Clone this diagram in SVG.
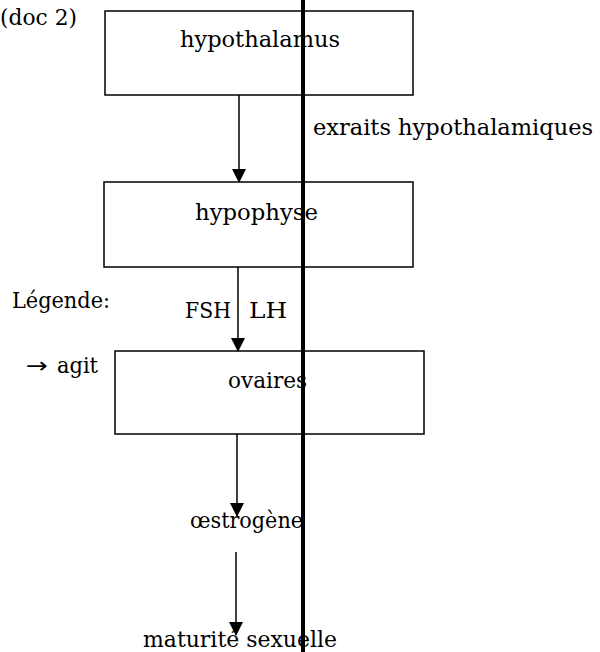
<svg xmlns="http://www.w3.org/2000/svg" width="600" height="652" viewBox="0 0 600 652">
<style>
text{font-family:'DejaVu Serif',serif;font-size:22px;fill:#000}
.arrowglyph{font-family:'DejaVu Sans',sans-serif;font-size:22px}
.box{fill:#fff;stroke:#000;stroke-width:1.5}
.conn{stroke:#000;stroke-width:1.5;fill:none}
</style>
<defs>
<marker id="ah" markerWidth="14" markerHeight="14" refX="13" refY="7" orient="auto" markerUnits="userSpaceOnUse">
<path d="M0,0 L14,7 L0,14 Z" fill="#000"/>
</marker>
</defs>
<rect width="600" height="652" fill="#fff"/>
<text x="0" y="25" textLength="77" lengthAdjust="spacingAndGlyphs">(doc 2)</text>
<g id="hypothalamus">
<rect class="box" x="105" y="11" width="308" height="84"/>
<text x="180" y="47" textLength="160" lengthAdjust="spacingAndGlyphs">hypothalamus</text>
</g>
<g id="hypophyse">
<rect class="box" x="104" y="182" width="309" height="85"/>
<text x="195" y="220" textLength="123" lengthAdjust="spacingAndGlyphs">hypophyse</text>
</g>
<g id="ovaires">
<rect class="box" x="115" y="351" width="309" height="83"/>
<text x="228" y="388" textLength="79" lengthAdjust="spacingAndGlyphs">ovaires</text>
</g>
<g id="oestrogene">
<text x="190" y="528" textLength="113" lengthAdjust="spacingAndGlyphs">œstrogène</text>
</g>
<g id="maturite">
<text x="143" y="647" textLength="194" lengthAdjust="spacingAndGlyphs">maturité sexuelle</text>
</g>
<g id="connectors">
<line class="conn" x1="239" y1="95" x2="239" y2="182" marker-end="url(#ah)"/>
<line class="conn" x1="238" y1="267" x2="238" y2="351" marker-end="url(#ah)"/>
<line class="conn" x1="237" y1="434" x2="237" y2="516" marker-end="url(#ah)"/>
<line class="conn" x1="236" y1="552" x2="236" y2="635" marker-end="url(#ah)"/>
</g>
<text x="185" y="318" textLength="46" lengthAdjust="spacingAndGlyphs">FSH</text>
<text x="249" y="318" textLength="38" lengthAdjust="spacingAndGlyphs">LH</text>
<text x="12" y="308" textLength="98" lengthAdjust="spacingAndGlyphs">Légende:</text>
<text class="arrowglyph" x="26" y="373" textLength="22" lengthAdjust="spacingAndGlyphs">→</text>
<text x="57" y="373" textLength="41" lengthAdjust="spacingAndGlyphs">agit</text>
<text x="313" y="135" textLength="280" lengthAdjust="spacingAndGlyphs">exraits hypothalamiques</text>
<line x1="303" y1="0" x2="303" y2="652" stroke="#000" stroke-width="4"/>
</svg>
